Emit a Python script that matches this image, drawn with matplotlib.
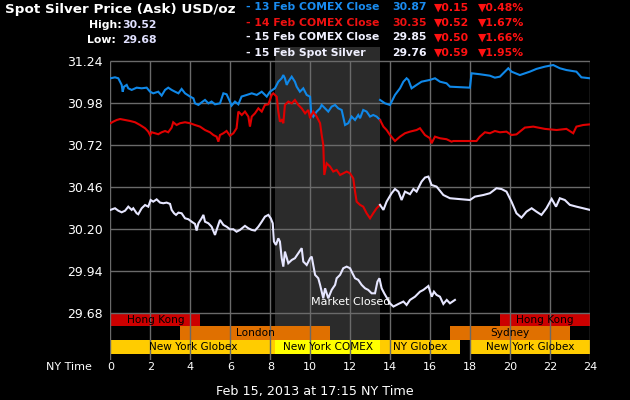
import matplotlib
matplotlib.use("Agg")
import matplotlib.pyplot as plt
import numpy as np

# ---------------- data ----------------
y_ticks = [29.68, 29.94, 30.20, 30.46, 30.72, 30.98, 31.24]
x_ticks = list(range(0, 25, 2))

# 13 Feb COMEX close series (blue): evening part (13.5-24) and day part (0-13.5)
blue_eve_t = [13.49, 13.74, 13.99, 14.24, 14.49, 14.66, 14.82, 14.91, 15.07, 15.32, 15.57, 15.99,
              16.24, 16.49, 16.82, 16.99, 17.99, 18.07, 18.49, 18.99, 19.24, 19.49, 19.91, 20.07,
              20.49, 20.99, 21.32, 21.74, 22.16, 22.49, 22.82, 23.32, 23.57, 23.99]
blue_eve_v = [30.996, 30.975, 30.965, 31.027, 31.068, 31.109, 31.130, 31.120, 31.068, 31.089, 31.109, 31.120,
              31.130, 31.109, 31.099, 31.078, 31.072, 31.161, 31.155, 31.146, 31.134, 31.140, 31.192, 31.171,
              31.150, 31.171, 31.188, 31.202, 31.212, 31.192, 31.181, 31.171, 31.136, 31.130]
blue_day_t = [0.0, 0.225, 0.39, 0.56, 0.61, 0.675, 0.81, 0.89, 1.06, 1.31, 1.56, 1.81, 1.98, 2.14, 2.39,
              2.56, 2.73, 2.89, 3.06, 3.23, 3.40, 3.56, 3.73, 3.98, 4.15, 4.23, 4.40, 4.56, 4.73, 4.90,
              5.06, 5.23, 5.48, 5.65, 5.81, 5.98, 6.06, 6.23, 6.40, 6.56, 6.82, 7.07, 7.32, 7.57, 7.82,
              7.98, 8.23, 8.40, 8.57, 8.65, 8.73, 8.82, 8.90, 9.07, 9.23, 9.32, 9.48, 9.65, 9.82, 9.99,
              10.04, 10.15, 10.32, 10.49, 10.57, 10.74, 10.90, 11.07, 11.24, 11.40, 11.57, 11.74, 11.90,
              12.07, 12.24, 12.40, 12.49, 12.65, 12.82, 12.99, 13.15, 13.32, 13.49]
blue_day_v = [31.130, 31.136, 31.130, 31.089, 31.047, 31.078, 31.089, 31.068, 31.058, 31.072, 31.068, 31.072,
              31.047, 31.037, 31.047, 31.023, 31.058, 31.072, 31.058, 31.047, 31.037, 31.064, 31.037, 31.017,
              31.006, 30.975, 30.965, 30.981, 30.996, 30.975, 30.986, 30.969, 30.975, 31.037, 31.031, 30.986,
              30.961, 30.986, 30.969, 31.017, 31.027, 31.037, 31.027, 31.047, 31.017, 31.047, 31.068, 31.109,
              31.130, 31.150, 31.130, 31.089, 31.109, 31.140, 31.109, 31.078, 31.047, 31.068, 31.027, 31.016,
              30.924, 30.893, 30.924, 30.944, 30.965, 30.944, 30.924, 30.955, 30.965, 30.944, 30.934, 30.841,
              30.852, 30.893, 30.872, 30.903, 30.883, 30.934, 30.924, 30.893, 30.903, 30.893, 30.872]

# 14 Feb COMEX close series (red)
red_eve_t = [13.49, 13.66, 13.82, 13.99, 14.24, 14.49, 14.74, 14.99, 15.32, 15.49, 15.74, 15.99, 16.07,
             16.24, 16.49, 16.82, 17.07, 17.16, 18.32, 18.49, 18.74, 18.99, 19.24, 19.49, 19.82, 20.07,
             20.32, 20.74, 21.16, 21.74, 22.33, 22.82, 23.16, 23.32, 23.66, 23.99]
red_eve_v = [30.872, 30.831, 30.810, 30.779, 30.742, 30.769, 30.790, 30.800, 30.810, 30.821, 30.779, 30.759,
             30.728, 30.769, 30.759, 30.753, 30.738, 30.742, 30.742, 30.769, 30.796, 30.790, 30.804, 30.796,
             30.800, 30.779, 30.783, 30.825, 30.831, 30.817, 30.810, 30.817, 30.790, 30.831, 30.841, 30.845]
red_day_t = [0.0, 0.14, 0.31, 0.48, 0.73, 0.98, 1.23, 1.48, 1.73, 1.89, 1.98, 2.06, 2.23, 2.39, 2.56, 2.73,
             2.89, 3.06, 3.14, 3.31, 3.48, 3.73, 3.98, 4.23, 4.48, 4.73, 4.98, 5.15, 5.31, 5.40, 5.48, 5.65,
             5.81, 5.98, 6.15, 6.31, 6.40, 6.57, 6.73, 6.90, 6.98, 7.07, 7.23, 7.40, 7.57, 7.73, 7.90, 7.98,
             8.07, 8.15, 8.32, 8.40, 8.48, 8.57, 8.65, 8.73, 8.90, 9.07, 9.23, 9.40, 9.57, 9.74, 9.90, 9.99,
             10.15, 10.32, 10.49, 10.57, 10.65, 10.70, 10.82, 10.99, 11.15, 11.32, 11.49, 11.65, 11.82,
             11.99, 12.15, 12.24, 12.32, 12.49, 12.65, 12.82, 12.99, 13.15, 13.32, 13.49]
red_day_v = [30.852, 30.862, 30.872, 30.878, 30.872, 30.866, 30.858, 30.841, 30.821, 30.800, 30.779, 30.796,
             30.790, 30.784, 30.796, 30.804, 30.796, 30.825, 30.858, 30.841, 30.852, 30.858, 30.852, 30.841,
             30.831, 30.810, 30.796, 30.779, 30.769, 30.738, 30.779, 30.790, 30.804, 30.775, 30.790, 30.821,
             30.924, 30.903, 30.924, 30.893, 30.831, 30.893, 30.913, 30.944, 30.924, 30.965, 30.969, 30.996,
             31.027, 31.037, 31.016, 30.924, 30.862, 30.872, 30.852, 30.965, 30.986, 30.975, 30.996, 30.965,
             30.944, 30.913, 30.934, 30.883, 30.924, 30.893, 30.852, 30.779, 30.718, 30.532, 30.604, 30.584,
             30.553, 30.563, 30.532, 30.542, 30.553, 30.542, 30.511, 30.429, 30.367, 30.347, 30.336, 30.295,
             30.264, 30.295, 30.326, 30.347]

# 15 Feb spot silver series (white): evening part (13.5-24) and current day (0-17.25)
white_eve_t = [13.49, 13.66, 13.82, 14.07, 14.24, 14.41, 14.57, 14.74, 14.99, 15.16, 15.32, 15.57, 15.74,
               15.91, 16.07, 16.32, 16.66, 16.99, 17.99, 18.24, 18.66, 18.99, 19.32, 19.57, 19.82, 20.07,
               20.32, 20.57, 20.82, 21.08, 21.32, 21.57, 21.82, 22.08, 22.30, 22.49, 22.74, 22.99, 23.32,
               23.66, 23.99]
white_eve_v = [30.347, 30.316, 30.367, 30.419, 30.445, 30.429, 30.377, 30.429, 30.413, 30.445, 30.429, 30.491,
               30.516, 30.522, 30.470, 30.460, 30.408, 30.388, 30.377, 30.398, 30.408, 30.419, 30.450, 30.445,
               30.429, 30.367, 30.295, 30.268, 30.305, 30.326, 30.305, 30.285, 30.326, 30.384, 30.336, 30.388,
               30.377, 30.347, 30.336, 30.326, 30.316]
white_day_t = [0.0, 0.225, 0.39, 0.56, 0.73, 0.89, 1.06, 1.14, 1.31, 1.39, 1.56, 1.73, 1.89, 2.01, 2.14, 2.31,
               2.48, 2.64, 2.81, 2.98, 3.06, 3.18, 3.28, 3.40, 3.56, 3.73, 3.90, 4.06, 4.23, 4.31, 4.40, 4.56,
               4.65, 4.73, 4.90, 5.06, 5.23, 5.31, 5.48, 5.65, 5.81, 5.98, 6.15, 6.31, 6.48, 6.73, 6.90, 7.07,
               7.23, 7.40, 7.57, 7.73, 7.90, 8.02, 8.12, 8.18, 8.28, 8.40, 8.48, 8.57, 8.65, 8.73, 8.90, 9.07,
               9.23, 9.40, 9.57, 9.65, 9.82, 9.99, 10.07, 10.24, 10.40, 10.49, 10.57, 10.65, 10.74, 10.82,
               10.90, 11.07, 11.24, 11.32, 11.49, 11.65, 11.82, 11.99, 12.07, 12.24, 12.40, 12.57, 12.74,
               12.90, 13.07, 13.24, 13.36, 13.46, 13.57, 13.70, 13.99, 14.16, 14.41, 14.66, 14.82, 14.99,
               15.24, 15.49, 15.66, 15.91, 16.08, 16.19, 16.32, 16.49, 16.66, 16.83, 16.99, 17.24]
white_day_v = [30.316, 30.326, 30.311, 30.301, 30.311, 30.336, 30.316, 30.326, 30.295, 30.289, 30.326, 30.346,
               30.336, 30.377, 30.367, 30.381, 30.361, 30.357, 30.361, 30.353, 30.316, 30.295, 30.285, 30.299,
               30.295, 30.264, 30.258, 30.243, 30.229, 30.188, 30.233, 30.264, 30.285, 30.243, 30.233, 30.212,
               30.161, 30.192, 30.254, 30.223, 30.212, 30.196, 30.196, 30.181, 30.192, 30.217, 30.202, 30.192,
               30.188, 30.212, 30.243, 30.274, 30.285, 30.264, 30.233, 30.120, 30.099, 30.140, 30.120, 30.017,
               29.965, 30.058, 29.986, 30.006, 30.017, 30.048, 30.079, 29.996, 29.975, 30.017, 30.027, 29.914,
               29.893, 29.852, 29.811, 29.769, 29.831, 29.800, 29.769, 29.821, 29.852, 29.893, 29.914, 29.955,
               29.965, 29.955, 29.934, 29.893, 29.883, 29.852, 29.831, 29.821, 29.800, 29.800, 29.872, 29.893,
               29.831, 29.800, 29.738, 29.718, 29.734, 29.749, 29.728, 29.759, 29.779, 29.810, 29.821, 29.845,
               29.779, 29.810, 29.790, 29.779, 29.734, 29.759, 29.738, 29.759]

# sessions bars: (label, start, end, row, color)
sess_labels = ["Hong Kong", "Hong Kong", "London", "Sydney",
               "New York Globex", "New York COMEX", "NY Globex", "New York Globex"]
sess_start = [0, 19.5, 3.5, 17, 0, 8.25, 13.5, 18]
sess_end = [4.5, 24, 11, 23, 8.25, 13.5, 17.5, 24]
sess_row = [0, 0, 1, 1, 2, 2, 2, 2]
sess_color = ["#cc0000", "#cc0000", "#e07000", "#e07000",
              "#ffcc00", "#ffff00", "#ffcc00", "#ffcc00"]
closed_start, closed_end = 8.25, 13.5

legend_names = ["- 13 Feb COMEX Close", "- 14 Feb COMEX Close", "- 15 Feb COMEX Close", "- 15 Feb Spot Silver"]
legend_vals = ["30.87", "30.35", "29.85", "29.76"]
legend_chg = ["\u25bc0.15", "\u25bc0.52", "\u25bc0.50", "\u25bc0.59"]
legend_pct = ["\u25bc0.48%", "\u25bc1.67%", "\u25bc1.66%", "\u25bc1.95%"]

# ---------------- style ----------------
BLUE = "#1088e8"
RED = "#e00000"
WHITE = "#e6e6ff"
GRID = "#6a6a6a"
SHADE = "#2b2b2b"
W, H = 630, 400

fig = plt.figure(figsize=(6.3, 4.0), dpi=100, facecolor="black")
x0, x1 = 110.5, 590.0
ytop_px, ybot_px = 47.0, 360.0
ax = fig.add_axes([x0 / W, 1 - ybot_px / H, (x1 - x0) / W, (ybot_px - ytop_px) / H])
ax.set_facecolor("black")
for s in ax.spines.values():
    s.set_visible(False)

ppu = (312.7 - 60.5) / (31.24 - 29.68)
def px2val(py):
    return 31.24 - (py - 60.5) / ppu
ymin, ymax = px2val(ybot_px), px2val(ytop_px)
ax.set_xlim(0, 24)
ax.set_ylim(ymin, ymax)

row_edges = [px2val(312.7), px2val(326.3), px2val(340.0), px2val(354.0)]

ax.fill_between([closed_start, closed_end], row_edges[2], ymax, color=SHADE, zorder=1, linewidth=0)

for lab, s0, s1, r, c in zip(sess_labels, sess_start, sess_end, sess_row, sess_color):
    top, bot = row_edges[r], row_edges[r + 1]
    ax.fill_between([s0, s1], bot, top, color=c, zorder=2, linewidth=0)
    ax.text((s0 + s1) / 2, (top + bot) / 2, lab, color="black", fontsize=7.6,
            ha="center", va="center", zorder=5)

ax.hlines(y_ticks, 0, 24, color=GRID, lw=1.0, zorder=3)
ax.vlines(x_ticks, ymin, 31.24, color=GRID, lw=1.0, zorder=3)

def plot_series(t_eve, v_eve, t_day, v_day, color):
    ax.plot(t_eve, v_eve, color=color, lw=1.5, zorder=4, solid_joinstyle="miter")
    ax.plot(t_day, v_day, color=color, lw=1.5, zorder=4, solid_joinstyle="miter")

plot_series(blue_eve_t, blue_eve_v, blue_day_t, blue_day_v, BLUE)
plot_series(red_eve_t, red_eve_v, red_day_t, red_day_v, RED)
plot_series(white_eve_t, white_eve_v, white_day_t, white_day_v, WHITE)

ax.text(12.0, px2val(302), "Market Closed", color="white", fontsize=8, ha="center", va="center", zorder=6)

ax.set_yticks(y_ticks)
ax.set_yticklabels([f"{v:.2f}" for v in y_ticks])
ax.set_xticks(x_ticks)
ax.set_xticklabels([str(v) for v in x_ticks])
ax.tick_params(axis="y", length=0, pad=5.5, labelcolor="white", labelsize=9)
ax.tick_params(axis="x", length=0, pad=1.8, labelcolor="white", labelsize=8)

def ftext(px, py, s, **kw):
    fig.text(px / W, 1 - py / H, s, **kw)

ftext(69, 367, "NY Time", color="white", fontsize=8, ha="center", va="center")
ftext(315, 392, "Feb 15, 2013 at 17:15 NY Time", color="white", fontsize=9.2, ha="center", va="center")

ftext(5, 10, "Spot Silver Price (Ask) USD/oz", color="white", fontsize=9.7, fontweight="bold",
      ha="left", va="center")
ftext(122, 24.5, "High:", color="white", fontsize=7.8, fontweight="bold", ha="right", va="center")
ftext(157, 24.5, "30.52", color="#e0e0ff", fontsize=7.8, fontweight="bold", ha="right", va="center")
ftext(116, 40, "Low:", color="white", fontsize=7.8, fontweight="bold", ha="right", va="center")
ftext(157, 40, "29.68", color="#e0e0ff", fontsize=7.8, fontweight="bold", ha="right", va="center")

leg_colors = ["#1a8cf0", "#ee1111", "#f0f0ff", "#f0f0ff"]
leg_y = [7.5, 22.5, 37.5, 52.5]
for name, val, chg, pct, c, yy in zip(legend_names, legend_vals, legend_chg, legend_pct, leg_colors, leg_y):
    ftext(246, yy, name, color=c, fontsize=7.8, fontweight="bold", ha="left", va="center")
    ftext(392, yy, val, color=c, fontsize=7.8, fontweight="bold", ha="left", va="center")
    ftext(434, yy, chg, color="#ff1111", fontsize=7.8, fontweight="bold", ha="left", va="center")
    ftext(478, yy, pct, color="#ff1111", fontsize=7.8, fontweight="bold", ha="left", va="center")

fig.savefig("out.png", dpi=100, facecolor="black")
